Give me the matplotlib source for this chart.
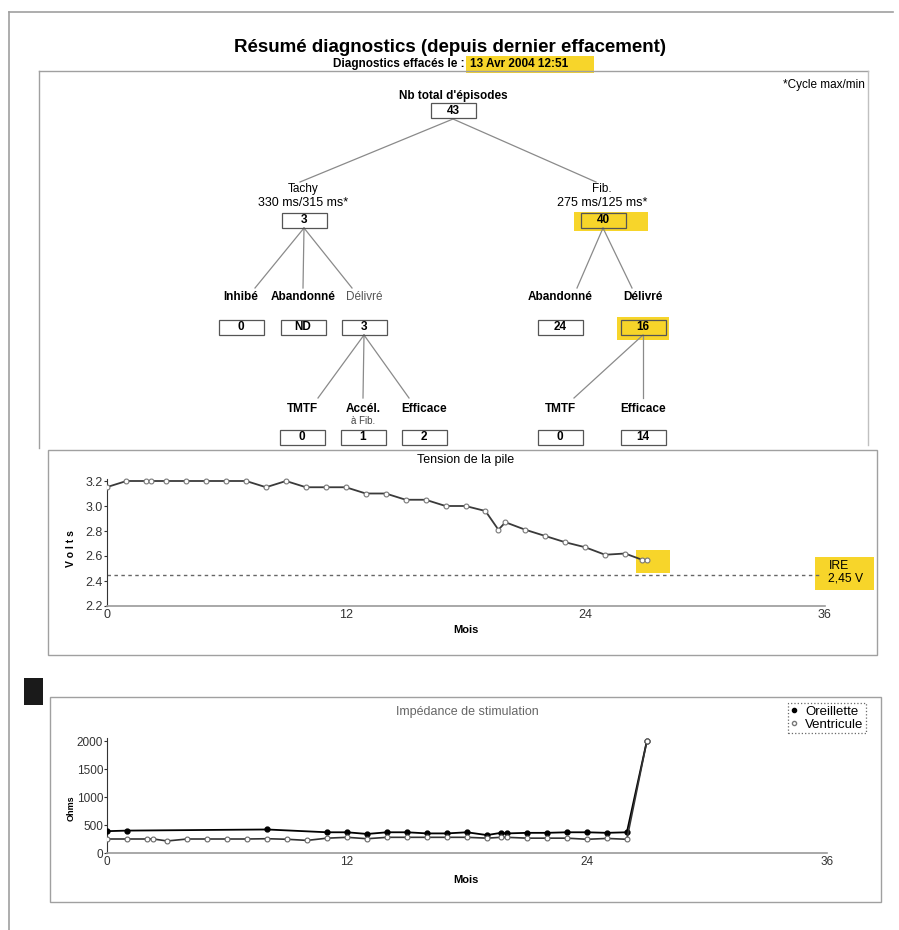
import matplotlib
matplotlib.use("Agg")
import matplotlib.pyplot as plt
from matplotlib.patches import Rectangle
from matplotlib.lines import Line2D

plt.rcParams['font.family'] = ['Liberation Sans', 'DejaVu Sans']

# ---- data ----
title = "Résumé diagnostics (depuis dernier effacement)"
sub_left = "Diagnostics effacés le : "
sub_date = "13 Avr 2004 12:51"

total_label = "Nb total d'épisodes"
total_count = "43"
branch_names = ["Tachy", "Fib."]
branch_cycles = ["330 ms/315 ms*", "275 ms/125 ms*"]
branch_counts = ["3", "40"]
tachy_labels = ["Inhibé", "Abandonné", "Délivré"]
tachy_counts = ["0", "ND", "3"]
fib_labels = ["Abandonné", "Délivré"]
fib_counts = ["24", "16"]
tachy_res_labels = ["TMTF", "Accél.", "Efficace"]
tachy_res_counts = ["0", "1", "2"]
fib_res_labels = ["TMTF", "Efficace"]
fib_res_counts = ["0", "14"]

volt_months = [0, 1, 2, 2.25, 3, 4, 5, 6, 7, 8, 9, 10, 11, 12, 13, 14, 15, 16,
               17, 18, 19, 19.65, 20, 21, 22, 23, 24, 25, 26, 26.85, 27.1]
volts = [3.15, 3.2, 3.2, 3.2, 3.2, 3.2, 3.2, 3.2, 3.2, 3.15, 3.2, 3.15, 3.15,
         3.15, 3.1, 3.1, 3.05, 3.05, 3.0, 3.0, 2.96, 2.81, 2.87, 2.81, 2.76,
         2.71, 2.67, 2.61, 2.62, 2.57, 2.57]
ire_volts = 2.45

oreil_months = [0, 1, 8, 11, 12, 13, 14, 15, 16, 17, 18, 19, 19.7, 20, 21,
                22, 23, 24, 25, 26, 27]
oreil_ohms = [390, 400, 420, 370, 370, 340, 370, 370, 350, 350, 370, 320, 360,
              350, 360, 360, 370, 370, 360, 370, 2000]
ventr_months = [0, 1, 2, 2.3, 3, 4, 5, 6, 7, 8, 9, 10, 11, 12, 13, 14, 15, 16,
                17, 18, 19, 19.7, 20, 21, 22, 23, 24, 25, 26, 27]
ventr_ohms = [250, 250, 250, 250, 215, 250, 250, 250, 250, 255, 245, 225, 265,
              280, 255, 280, 280, 280, 280, 280, 265, 280, 280, 265, 265, 265,
              245, 260, 245, 2000]

month_ticks = [0, 12, 24, 36]

W, H = 899, 930
YEL = "#f7d52a"
fig = plt.figure(figsize=(W / 100, H / 100), dpi=100)
bg = fig.add_axes([0, 0, 1, 1])
bg.set_xlim(0, W)
bg.set_ylim(H, 0)
bg.axis('off')


def px_axes(left, top, right, bottom):
    return fig.add_axes([left / W, 1 - bottom / H, (right - left) / W, (bottom - top) / H])


def hl(x0, y0, x1, y1):
    bg.add_patch(Rectangle((x0, y0), x1 - x0, y1 - y0, color=YEL, lw=0, zorder=0))


def seg(x0, y0, x1, y1, c="#8a8a8a", lw=0.9):
    bg.plot([x0, x1], [y0, y1], color=c, lw=lw, zorder=1)


def box(cx, cy, txt, w=45, h=15):
    bg.add_patch(Rectangle((cx - w / 2, cy - h / 2), w, h, fill=False,
                           ec="#555555", lw=0.9, zorder=3))
    bg.text(cx, cy, txt, ha='center', va='center', fontsize=8.5,
            fontweight='bold', zorder=4)


LAB = 8.5

# page and panel frames
fc = "#a0a0a0"
seg(9, 12, 9, 930, fc, 1.2)
seg(9, 12, 893, 12, fc, 1.2)
seg(39, 71, 39, 448, fc, 1.0)
seg(39, 71, 868, 71, fc, 1.0)
seg(868, 71, 868, 445, "#c0c0c0", 1.0)
bg.add_patch(Rectangle((48, 450), 829, 205, fill=False, ec=fc, lw=1.0))
bg.add_patch(Rectangle((50, 697), 831, 205, fill=False, ec=fc, lw=1.0))
bg.add_patch(Rectangle((24, 678), 19, 27, color="#1a1a1a", lw=0))

# highlights
hl(466, 56, 594, 73)
hl(574, 212, 648, 231)
hl(617, 317, 669, 340)
hl(636, 550, 670, 573)
hl(815, 557, 874, 590)

# titles
bg.text(450, 47, title, ha='center', va='center', fontsize=13.5, fontweight='bold')
bg.text(468, 64, sub_left, ha='right', va='center', fontsize=8.5, fontweight='bold')
bg.text(470, 64, sub_date, ha='left', va='center', fontsize=8.5, fontweight='bold')
bg.text(865, 85, "*Cycle max/min", ha='right', va='center', fontsize=8.5)

# tree
bg.text(453, 96, total_label, ha='center', va='center', fontsize=LAB, fontweight='bold')
box(453, 111, total_count)

bx = [303, 602]
for x in bx:
    seg(453, 119, x - 3 if x < 453 else x - 6, 182)
for x, name, cyc, cnt in zip(bx, branch_names, branch_cycles, branch_counts):
    bg.text(x, 189, name, ha='center', va='center', fontsize=LAB)
    bg.text(x, 203, cyc, ha='center', va='center', fontsize=9)
    box(x + 1, 220, cnt)

tx = [241, 303, 364]
for x, end in zip(tx, [255, 303, 352]):
    seg(304, 228, end, 288)
for x, lab, cnt in zip(tx, tachy_labels, tachy_counts):
    weight = 'normal' if lab == "Délivré" else 'bold'
    col = "#555555" if lab == "Délivré" else "black"
    bg.text(x, 297, lab, ha='center', va='center', fontsize=LAB,
            fontweight=weight, color=col)
    box(x, 327, cnt)

fx = [560, 643]
for end in [577, 632]:
    seg(603, 228, end, 288)
for x, lab, cnt in zip(fx, fib_labels, fib_counts):
    bg.text(x, 297, lab, ha='center', va='center', fontsize=LAB, fontweight='bold')
    box(x, 327, cnt)

trx = [302, 363, 424]
for end in [318, 363, 409]:
    seg(364, 335, end, 398)
for x, lab, cnt in zip(trx, tachy_res_labels, tachy_res_counts):
    bg.text(x, 409, lab, ha='center', va='center', fontsize=LAB, fontweight='bold')
    box(x, 437, cnt)
bg.text(363, 421, "à Fib.", ha='center', va='center', fontsize=7, color="#444444")

frx = [560, 643]
for end in [574, 643]:
    seg(643, 335, end, 398)
for x, lab, cnt in zip(frx, fib_res_labels, fib_res_counts):
    bg.text(x, 409, lab, ha='center', va='center', fontsize=LAB, fontweight='bold')
    box(x, 437, cnt)

# ---- voltage chart ----
ax1 = px_axes(106.5, 478.5, 824.5, 606)
ax1.patch.set_alpha(0)
ax1.plot(volt_months, volts, color="#3a3a3a", lw=1.3, marker='o', ms=3.5,
         mfc='white', mec='#777777', mew=0.8, zorder=3)
ax1.axhline(ire_volts, xmax=35.8 / 36, color="#666666", lw=1, ls=(0, (2.5, 2.5)))
ax1.text(36.2, 2.47, "IRE\n2,45 V", ha='left', va='center', fontsize=8.7,
         linespacing=0.95)
ax1.set_xlim(0, 36)
ax1.set_ylim(2.2, 3.22)
ax1.set_xticks(month_ticks)
ax1.set_yticks([2.2, 2.4, 2.6, 2.8, 3.0, 3.2])
ax1.set_yticklabels(["2.2", "2.4", "2.6", "2.8", "3.0", "3.2"])
ax1.tick_params(labelsize=9, length=2, pad=1, colors="#333333")
ax1.tick_params(axis='x', length=0, pad=2)
for s in ['top', 'right']:
    ax1.spines[s].set_visible(False)
ax1.spines['left'].set_color("#333333")
ax1.spines['bottom'].set_color("#9a9a9a")
ax1.spines['bottom'].set_linewidth(1.2)
ax1.set_title("Tension de la pile", fontsize=9, pad=11)
ax1.set_xlabel("Mois", fontsize=8, fontweight='bold', labelpad=3,
               x=(466 - 106.5) / 718)
bg.text(71, 549, "V o l t s", rotation=90, ha='center', va='center',
        fontsize=7.5, fontweight='bold')

# ---- impedance chart ----
ax2 = px_axes(107.3, 738.2, 826.7, 853)
ax2.patch.set_alpha(0)
l1, = ax2.plot(oreil_months, oreil_ohms, color="black", lw=1.3, marker='o',
               ms=3.5, mfc='black', mec='black', label="Oreillette", zorder=3)
l2, = ax2.plot(ventr_months, ventr_ohms, color="#333333", lw=1.2, marker='o',
               ms=3.5, mfc='white', mec='#666666', mew=0.8, label="Ventricule",
               zorder=4)
ax2.set_xlim(0, 36)
ax2.set_ylim(0, 2050)
ax2.set_xticks(month_ticks)
ax2.set_yticks([0, 500, 1000, 1500, 2000])
ax2.tick_params(labelsize=8.5, length=2, pad=1, colors="#333333")
ax2.tick_params(axis='x', length=0, pad=2)
for s in ['top', 'right']:
    ax2.spines[s].set_visible(False)
ax2.spines['left'].set_color("#333333")
ax2.spines['bottom'].set_color("#9a9a9a")
ax2.spines['bottom'].set_linewidth(1.2)
ax2.set_title("Impédance de stimulation", fontsize=9, color="#666666", pad=17)
ax2.set_xlabel("Mois", fontsize=8, fontweight='bold', labelpad=5,
               x=(466 - 107.3) / 719.4)
bg.text(71, 808, "Ohms", rotation=90, ha='center', va='center', fontsize=6.5,
        fontweight='bold')

leg = fig.legend(handles=[Line2D([], [], ls='none', marker='o', ms=3, color='black'),
                          Line2D([], [], ls='none', marker='o', ms=3, mfc='white',
                                 mec='#777777')],
                 labels=["Oreillette", "Ventricule"],
                 loc='upper right', bbox_to_anchor=(866 / W, 1 - 703 / H),
                 fontsize=9.5, frameon=True, fancybox=False, handlelength=0.6,
                 handletextpad=0.5, borderpad=0.2, labelspacing=0.05,
                 borderaxespad=0)
leg.get_frame().set_linestyle(':')
leg.get_frame().set_edgecolor('#444444')
leg.get_frame().set_linewidth(0.9)

fig.savefig("out.png", dpi=100)
